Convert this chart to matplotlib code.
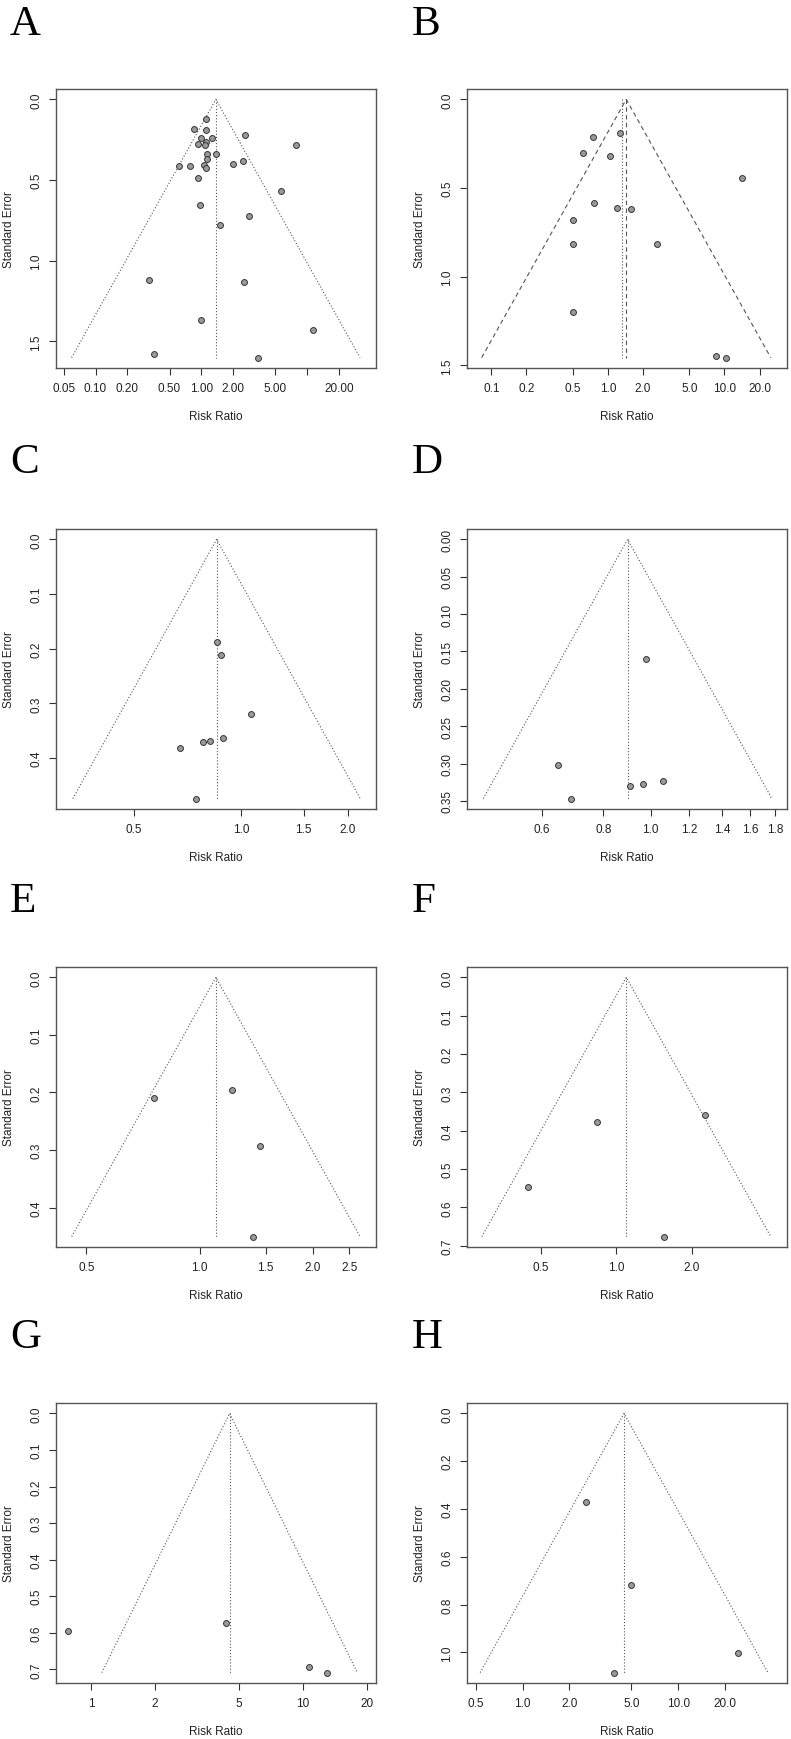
import numpy as np
import matplotlib
matplotlib.use("Agg")
import matplotlib.pyplot as plt
from matplotlib.ticker import FixedLocator, FixedFormatter, NullLocator

plt.rcParams['font.family'] = ['Liberation Sans', 'DejaVu Sans']

# panel letters
labels = ['A', 'B', 'C', 'D', 'E', 'F', 'G', 'H']

# risk ratios and standard errors of the studies, one list per panel
rr_a = [1.10, 0.856, 1.10, 2.57, 0.99, 1.256, 0.927, 1.11, 1.08, 7.91, 1.135, 1.39, 1.119, 2.01, 2.48,
        0.609, 0.773, 1.063, 1.10, 0.92, 5.62, 0.961, 2.85, 1.496, 0.319, 2.52, 0.996, 11.46, 0.359, 3.42]
se_a = [0.124, 0.181, 0.190, 0.223, 0.239, 0.241, 0.276, 0.264, 0.286, 0.280, 0.338, 0.338, 0.369, 0.398, 0.383,
        0.412, 0.416, 0.404, 0.424, 0.488, 0.571, 0.657, 0.723, 0.781, 1.117, 1.129, 1.368, 1.430, 1.578, 1.601]
rr_b = [1.27, 0.75, 0.607, 1.035, 14.1, 0.764, 1.196, 1.578, 0.502, 0.502, 2.65, 0.502, 8.51, 10.36]
se_b = [0.191, 0.214, 0.300, 0.317, 0.443, 0.586, 0.614, 0.619, 0.681, 0.818, 0.818, 1.201, 1.445, 1.457]
rr_c = [0.855, 0.879, 1.067, 0.892, 0.820, 0.782, 0.677, 0.749]
se_c = [0.188, 0.211, 0.319, 0.364, 0.368, 0.371, 0.381, 0.474]
rr_d = [0.977, 0.647, 1.061, 0.966, 0.906, 0.686]
se_d = [0.1607, 0.3018, 0.3232, 0.3272, 0.3304, 0.3469]
rr_e = [0.756, 1.219, 1.452, 1.391]
se_e = [0.210, 0.1956, 0.2938, 0.4505]
rr_f = [0.443, 0.835, 2.264, 1.544]
se_f = [0.546, 0.378, 0.3587, 0.6765]
rr_g = [0.779, 4.35, 10.69, 13.04]
se_g = [0.596, 0.573, 0.6927, 0.709]
rr_h = [2.54, 4.99, 24.0, 3.86]
se_h = [0.372, 0.719, 1.0014, 1.085]

rr_all = [rr_a, rr_b, rr_c, rr_d, rr_e, rr_f, rr_g, rr_h]
se_all = [se_a, se_b, se_c, se_d, se_e, se_f, se_g, se_h]

# pooled estimates (funnel centre); panel B also has a second (fixed) estimate
pooled = [1.37, 1.436, 0.855, 0.897, 1.105, 1.096, 4.50, 4.48]
pooled_b_other = 1.32

# axis ticks
xticks = [[0.05, 0.10, 0.20, 0.50, 1.00, 2.00, 5.00, 10.0, 20.00],
          [0.1, 0.2, 0.5, 1.0, 2.0, 5.0, 10.0, 20.0],
          [0.5, 1.0, 1.5, 2.0],
          [0.6, 0.8, 1.0, 1.2, 1.4, 1.6, 1.8],
          [0.5, 1.0, 1.5, 2.0, 2.5],
          [0.5, 1.0, 2.0],
          [1, 2, 5, 10, 20],
          [0.5, 1.0, 2.0, 5.0, 10.0, 20.0]]
xticklabels = [['0.05', '0.10', '0.20', '0.50', '1.00', '2.00', '5.00', '', '20.00'],
               ['0.1', '0.2', '0.5', '1.0', '2.0', '5.0', '10.0', '20.0'],
               ['0.5', '1.0', '1.5', '2.0'],
               ['0.6', '0.8', '1.0', '1.2', '1.4', '1.6', '1.8'],
               ['0.5', '1.0', '1.5', '2.0', '2.5'],
               ['0.5', '1.0', '2.0'],
               ['1', '2', '5', '10', '20'],
               ['0.5', '1.0', '2.0', '5.0', '10.0', '20.0']]
yticks = [[0.0, 0.5, 1.0, 1.5],
          [0.0, 0.5, 1.0, 1.5],
          [0.0, 0.1, 0.2, 0.3, 0.4],
          [0.00, 0.05, 0.10, 0.15, 0.20, 0.25, 0.30, 0.35],
          [0.0, 0.1, 0.2, 0.3, 0.4],
          [0.0, 0.1, 0.2, 0.3, 0.4, 0.5, 0.6, 0.7],
          [0.0, 0.1, 0.2, 0.3, 0.4, 0.5, 0.6, 0.7],
          [0.0, 0.2, 0.4, 0.6, 0.8, 1.0]]
yfmt = ['%.1f', '%.1f', '%.1f', '%.2f', '%.1f', '%.1f', '%.1f', '%.1f']
xlims = [(0.0423, 44.7), (0.0618, 34.4), (0.3029, 2.396), (0.421, 1.901),
         (0.415, 2.946), (0.254, 4.79), (0.681, 22.13), (0.440, 49.8)]

W, H = 791, 1740
fig = plt.figure(figsize=(W / 100, H / 100), dpi=100)

col_x = [56, 467]
row_y = [(90, 369), (530, 810), (968, 1248), (1404, 1684)]
letter_base = [35, 473, 912, 1348]

for i in range(8):
    r, c = divmod(i, 2)
    x0 = col_x[c]
    y0, y1 = row_y[r]
    ax = fig.add_axes([x0 / W, 1 - y1 / H, 320 / W, (y1 - y0) / H])
    ax.set_xscale('log')

    rr = np.array(rr_all[i])
    se = np.array(se_all[i])
    maxse = se.max()
    est = pooled[i]
    lo = np.exp(np.log(est) - 1.96 * maxse)
    hi = np.exp(np.log(est) + 1.96 * maxse)

    ls = (0, (4, 3)) if i == 1 else (0, (1, 1.8))
    ax.plot([lo, est, hi], [maxse, 0, maxse], color='#555555', lw=0.8, ls=ls)
    ax.plot([est, est], [0, maxse], color='#555555', lw=0.8, ls=ls)
    if i == 1:
        ax.plot([pooled_b_other] * 2, [0, maxse], color='#555555', lw=0.8, ls=(0, (1, 1.8)))

    ax.scatter(rr, se, s=18, c='#9a9a9a', edgecolors='#333333', linewidths=0.7, zorder=3)

    ax.set_xlim(*xlims[i])
    ax.set_ylim(maxse * 1.04, -0.04 * maxse)

    ax.xaxis.set_major_locator(FixedLocator(xticks[i]))
    ax.xaxis.set_major_formatter(FixedFormatter(xticklabels[i]))
    ax.xaxis.set_minor_locator(NullLocator())
    ax.set_yticks(yticks[i])
    ax.set_yticklabels([yfmt[i] % v for v in yticks[i]], rotation=90, va='center')

    ax.tick_params(direction='out', length=5, width=0.8, color='#333333',
                   labelsize=8.5, pad=5, labelcolor='#222222')
    for sp in ax.spines.values():
        sp.set_color('#555555')
        sp.set_linewidth(1.0)

    ax.set_xlabel('Risk Ratio', fontsize=8.5, color='#222222')
    ax.set_ylabel('Standard Error', fontsize=8.5, color='#222222')
    ax.xaxis.set_label_coords(0.5, -0.172)
    ax.xaxis.label.set_va('center')
    ax.yaxis.set_label_coords(-0.147, 0.5)
    ax.yaxis.label.set_va('center')

    lx = 10 if c == 0 else 412
    fig.text(lx / W, 1 - letter_base[r] / H, labels[i], fontsize=31,
             family=['Liberation Serif', 'DejaVu Serif'], va='baseline', ha='left')

fig.savefig('out.png', dpi=100)
